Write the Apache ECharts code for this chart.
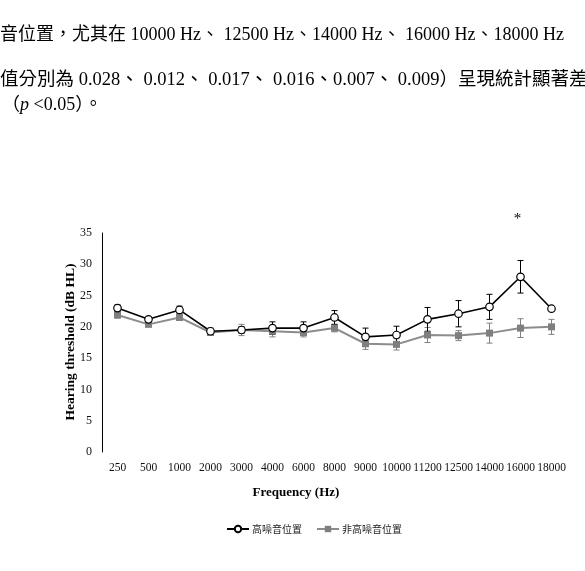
<!DOCTYPE html>
<html>
<head>
<meta charset="utf-8">
<script src="https://cdn.jsdelivr.net/npm/echarts@6/dist/echarts.min.js"></script>
<style>
html,body{margin:0;padding:0;background:#fff;}
#chart{width:585px;height:571px;}
</style>
</head>
<body>
<div id="chart"></div>
<script>
// ---- data ----
const categories = ['250','500','1000','2000','3000','4000','6000','8000','9000','10000','11200','12500','14000','16000','18000'];
const highNoise    = [23.0,21.2,22.7,19.3,19.5,19.8,19.8,21.5,18.4,18.7,21.2,22.1,23.2,28.0,22.9];
const highNoiseErr = [0.5,0.3,0.6,0.5,0.5,1.0,1.0,1.1,1.4,1.4,1.9,2.1,2.0,2.6,0.3];
const otherNoise    = [21.9,20.4,21.5,19.1,19.5,19.3,19.1,19.8,17.3,17.2,18.7,18.6,19.0,19.8,20.0];
const otherNoiseErr = [0.5,0.3,0.4,0.3,0.9,0.9,0.7,0.6,0.9,0.9,1.2,0.8,1.6,1.5,1.2];
const seriesNames = ['高噪音位置','非高噪音位置'];
const yTicks = {min:0, max:35, interval:5};
const sigCategories = ['16000'];
const sigValues = [37.2];
const sigText = ['*'];
const bodyLines = [
  '音位置，尤其在 10000 Hz、 12500 Hz、14000 Hz、 16000 Hz、18000 Hz',
  '值分別為 0.028、 0.012、 0.017、 0.016、0.007、 0.009）呈現統計顯著差'
];
const xTitle = 'Frequency (Hz)';
const yTitle = 'Hearing threshold (dB HL)';

// ---- chart ----
const SERIF = "'Liberation Serif','Times New Roman',serif";
const MIX = "'Liberation Serif','Noto Sans CJK TC',serif";
const chart = echarts.init(document.getElementById('chart'), null, {renderer:'canvas'});

function errSeries(means, errs, color, z){
  return {
    type:'custom',
    z: z,
    silent:true,
    data: means.map((m,i)=>[i, m - errs[i], m + errs[i]]),
    renderItem: function(params, api){
      const x = api.value(0);
      const lo = api.coord([x, api.value(1)]);
      const hi = api.coord([x, api.value(2)]);
      const cw = 3;
      const st = {stroke: color, lineWidth: 1};
      return {type:'group', children:[
        {type:'line', shape:{x1:lo[0], y1:lo[1], x2:hi[0], y2:hi[1]}, style:st},
        {type:'line', shape:{x1:lo[0]-cw, y1:lo[1], x2:lo[0]+cw, y2:lo[1]}, style:st},
        {type:'line', shape:{x1:hi[0]-cw, y1:hi[1], x2:hi[0]+cw, y2:hi[1]}, style:st}
      ]};
    }
  };
}

const option = {
  animation:false,
  backgroundColor:'#fff',
  grid:{left:102, right:18, top:233, bottom:119, containLabel:false},
  xAxis:{
    type:'category', data:categories, boundaryGap:true,
    axisLine:{show:false}, axisTick:{show:false},
    axisLabel:{color:'#111', fontFamily:SERIF, fontSize:11.5, margin:10, interval:0}
  },
  yAxis:{
    type:'value', min:yTicks.min, max:yTicks.max, interval:yTicks.interval,
    splitLine:{show:false},
    axisLine:{show:true, lineStyle:{color:'#000', width:1}},
    axisTick:{show:false},
    axisLabel:{color:'#111', fontFamily:SERIF, fontSize:12, margin:10}
  },
  legend:{
    left:221, top:519, itemGap:14, itemWidth:22, itemHeight:8,
    data:seriesNames,
    textStyle:{fontFamily:"'Noto Sans CJK TC'", fontSize:10, color:'#222', padding:[0,0,0,-2]}
  },
  series:[
    errSeries(otherNoise, otherNoiseErr, '#808080', 1),
    errSeries(highNoise, highNoiseErr, '#000', 2),
    {
      name:seriesNames[1], type:'line', data:otherNoise, z:3,
      symbol:'rect', symbolSize:7,
      lineStyle:{color:'#8c8c8c', width:2},
      itemStyle:{color:'#7f7f7f', borderColor:'#7f7f7f', borderWidth:0}
    },
    {
      name:seriesNames[0], type:'line', data:highNoise, z:4,
      symbol:'circle', symbolSize:7.5, showAllSymbol:true,
      lineStyle:{color:'#000', width:1.6},
      itemStyle:{color:'#fff', borderColor:'#000', borderWidth:1.2}
    },
    {
      type:'custom', z:5, silent:true, clip:false,
      data: sigCategories.map((c,i)=>[categories.indexOf(c), sigValues[i], i]),
      renderItem: function(params, api){
        const p = api.coord([api.value(0), api.value(1)]);
        return {type:'text', x:p[0]-3, y:p[1], style:{
          text: sigText[api.value(2)], font:"15px " + SERIF, fill:'#000',
          align:'center', verticalAlign:'middle'
        }};
      }
    }
  ],
  graphic:[
    {type:'text', left:0, top:26, style:{text:bodyLines[0], font:"18px " + MIX, fill:'#000'}},
    {type:'text', left:0, top:71, style:{text:bodyLines[1], font:"18.5px " + MIX, fill:'#000'}},
    {type:'text', left:2, top:96, style:{
      text:'{a|（}{i|p}{a| <0.05）。}',
      rich:{
        a:{font:"18px " + MIX, fill:'#000'},
        i:{font:"italic 18px " + SERIF, fill:'#000'}
      }
    }},
    {type:'text', x:71, y:342, rotation:Math.PI/2, style:{
      text:yTitle, font:"bold 13.5px " + SERIF, fill:'#000', align:'center', verticalAlign:'middle'
    }},
    {type:'text', x:296, y:493, style:{
      text:xTitle, font:"bold 13px " + SERIF, fill:'#000', align:'center', verticalAlign:'middle'
    }}
  ]
};
chart.setOption(option);
</script>
</body>
</html>
